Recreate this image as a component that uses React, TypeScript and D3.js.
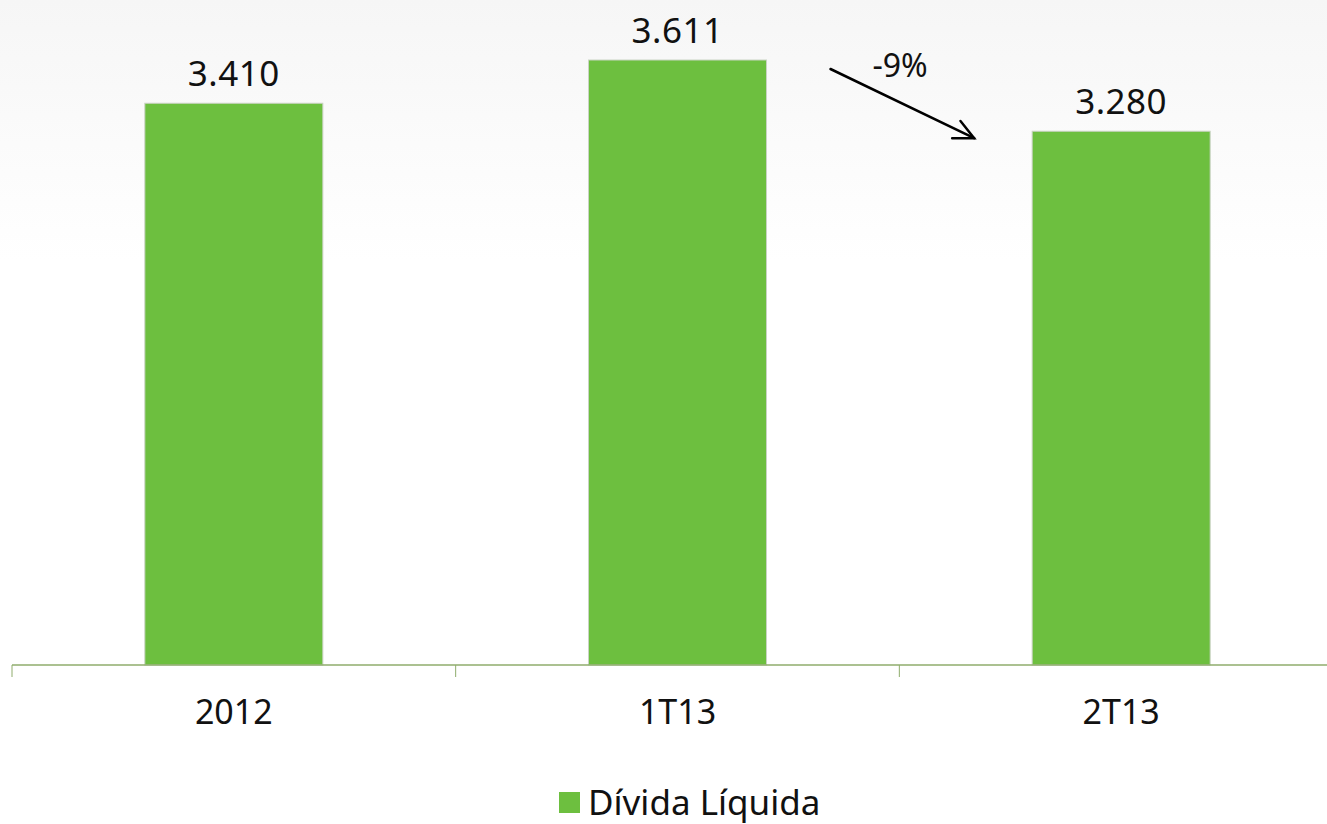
import React from 'react';
import * as d3 from 'd3';

const categories = ['2012', '1T13', '2T13'];
const values = [3410, 3611, 3280];
const valueLabels = ['3.410', '3.611', '3.280'];
const seriesName = 'Dívida Líquida';
const changeLabel = '-9%';

const WIDTH = 1327;
const HEIGHT = 824;
const BAR_COLOR = '#6dbf3f';
const FONT = '"Noto Sans", "Open Sans", sans-serif';

const App: React.FC = () => {
  // plot area
  const axisY = 665;
  const x = d3.scaleBand<string>().domain(categories).range([12, 1343]).paddingInner(0).paddingOuter(0);
  const barW = 178;
  // axis in the source does not start at zero
  const y = d3.scaleLinear().domain([800, 3611]).range([axisY, 60]);

  const tickXs = [...categories.map((c) => x(c) as number), 1343];

  // arrow between 1T13 and 2T13
  const ax1 = (x('1T13') as number) + x.bandwidth() / 2 + barW / 2 + 64;
  const ay1 = y(values[1]) + 9;
  const ax2 = (x('2T13') as number) + x.bandwidth() / 2 - barW / 2 - 58;
  const ay2 = y(values[2]) + 7;
  const ang = Math.atan2(ay2 - ay1, ax2 - ax1);
  const head = 22;
  const spread = 0.45;
  const h1 = [ax2 - head * Math.cos(ang - spread), ay2 - head * Math.sin(ang - spread)];
  const h2 = [ax2 - head * Math.cos(ang + spread), ay2 - head * Math.sin(ang + spread)];

  return (
    <svg
      width={WIDTH}
      height={HEIGHT}
      style={{ position: 'absolute', left: 0, top: 0, background: '#fff' }}
      fontFamily={FONT}
    >
      <defs>
        <linearGradient id="bg-fade" x1="0" y1="0" x2="0" y2="1">
          <stop offset="0%" stopColor="#f6f6f6" />
          <stop offset="100%" stopColor="#ffffff" />
        </linearGradient>
      </defs>
      <rect x={0} y={0} width={WIDTH} height={260} fill="url(#bg-fade)" />

      {/* bars */}
      {categories.map((c, i) => {
        const cx = (x(c) as number) + x.bandwidth() / 2;
        return (
          <g key={c}>
            <rect
              x={cx - barW / 2}
              y={y(values[i])}
              width={barW}
              height={axisY - y(values[i])}
              fill={BAR_COLOR}
              stroke="#c9d3c3"
              strokeWidth={1}
            />
            <text
              x={cx}
              y={y(values[i]) - 17}
              textAnchor="middle"
              fontSize={35}
              letterSpacing={0.5}
              fill="#111"
            >
              {valueLabels[i]}
            </text>
            <text x={cx} y={724} textAnchor="middle" fontSize={34} fill="#111">
              {c}
            </text>
          </g>
        );
      })}

      {/* axis */}
      <line x1={12} x2={WIDTH} y1={axisY} y2={axisY} stroke="#8fac6c" strokeWidth={1.5} />
      {tickXs.map((t, i) => (
        <line key={i} x1={t} x2={t} y1={axisY} y2={axisY + 12} stroke="#8fac6c" strokeWidth={1} />
      ))}

      {/* change arrow */}
      <g stroke="#000" strokeWidth={2.5} fill="none" strokeLinecap="round">
        <line x1={ax1} y1={ay1} x2={ax2} y2={ay2} />
        <polyline points={`${h1[0]},${h1[1]} ${ax2},${ay2} ${h2[0]},${h2[1]}`} />
      </g>
      <text x={900} y={77} textAnchor="middle" fontSize={32} fill="#111">
        {changeLabel}
      </text>

      {/* legend */}
      <rect x={559} y={792} width={21} height={21} fill={BAR_COLOR} />
      <text x={588} y={815} fontSize={35} fill="#111">
        {seriesName}
      </text>
    </svg>
  );
};

export default App;
